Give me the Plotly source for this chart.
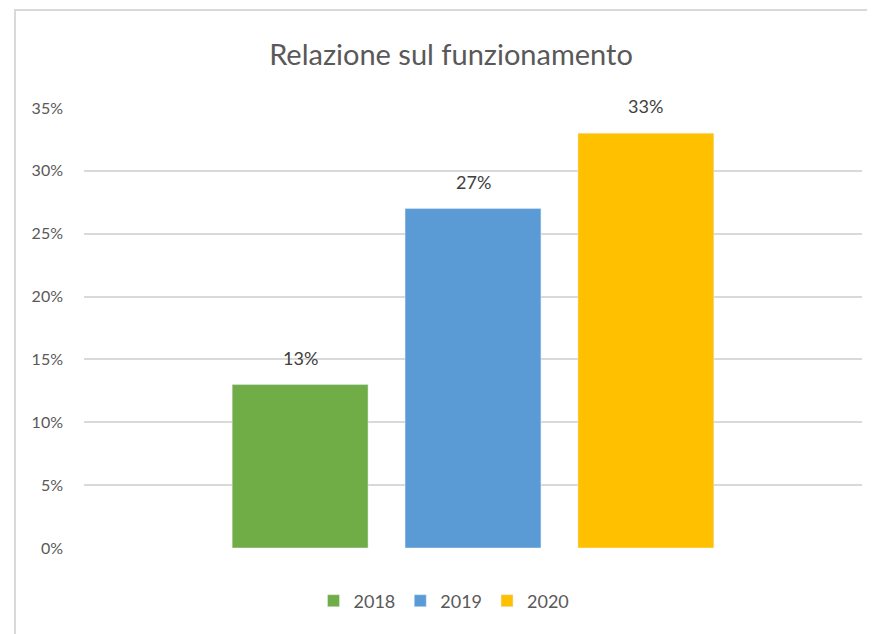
import plotly.graph_objects as go

years = ["2018", "2019", "2020"]
values = [0.13, 0.27, 0.33]
colors = ["#70AD47", "#5B9BD5", "#FFC000"]
labels = ["13%", "27%", "33%"]

FONT = "Lato"

fig = go.Figure()
for year, val, col in zip(years, values, colors):
    fig.add_trace(go.Bar(
        x=[year], y=[val], name=year,
        marker=dict(color=col),
        cliponaxis=False,
    ))

# page body has an 8px margin, so everything is placed 8px up/left
fig.update_layout(
    width=875, height=634,
    font=dict(family=FONT, color="#595959"),
    title=dict(text="Relazione sul funzionamento", x=443 / 875, xanchor="center",
               y=1 - 47 / 634, yanchor="middle",
               font=dict(size=29, color="#595959")),
    paper_bgcolor="white", plot_bgcolor="white",
    margin=dict(l=76, r=21, t=100, b=94, autoexpand=False),
    bargap=0.214,
    showlegend=True,
    legend=dict(orientation="h", xref="container", x=436 / 875, xanchor="center",
                yref="container", y=41 / 634, yanchor="middle",
                font=dict(size=18, color="#595959"), itemwidth=30, tracegroupgap=0),
    xaxis=dict(type="category", showticklabels=False, showgrid=False,
               zeroline=False, showline=False, range=[-1.25, 3.25]),
    yaxis=dict(range=[0, 0.35], dtick=0.05, tickformat=".0%",
               gridcolor="#D9D9D9", gridwidth=1.5, zeroline=False, showline=False,
               ticks="", ticklabelstandoff=20,
               tickfont=dict(size=16, color="#595959")),
    shapes=[dict(type="rect", xref="paper", yref="paper",
                 x0=-69 / 778, x1=800 / 778, y0=-110 / 440, y1=538 / 440,
                 line=dict(color="#D9D9D9", width=2))],
)

# category axis: annotations take the category index
for i, (val, lab) in enumerate(zip(values, labels)):
    fig.add_annotation(x=i, y=val, xref="x", yref="y", text=lab, showarrow=False,
                       yanchor="bottom", yshift=14,
                       font=dict(family=FONT, size=18, color="#404040"))

fig.write_html("out.html")
